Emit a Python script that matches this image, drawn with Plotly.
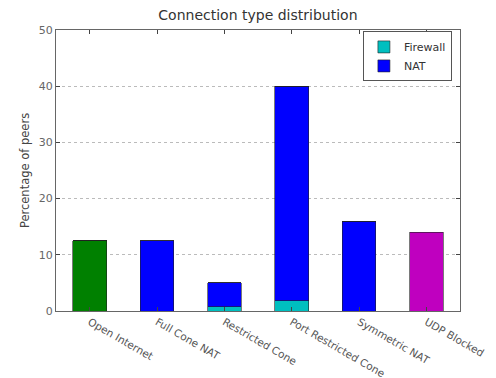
import plotly.graph_objects as go

categories = ["Open Internet", "Full Cone NAT", "Restricted Cone",
              "Port Restricted Cone", "Symmetric NAT", "UDP Blocked"]
open_internet = [12.5, 0, 0, 0, 0, 0]
firewall = [0, 0, 0.8, 1.8, 0, 0]
nat = [0, 12.5, 4.2, 38.2, 16.0, 0]
udp_blocked = [0, 0, 0, 0, 0, 14.0]
y_ticks = [0, 10, 20, 30, 40, 50]

edge = dict(color="#222222", width=0.6)
fig = go.Figure()
fig.add_bar(x=categories, y=open_internet, marker=dict(color="#008000", line=edge),
            width=0.5, showlegend=False, name="Open Internet")
fig.add_bar(x=categories, y=firewall, marker=dict(color="#00bfbf", line=edge),
            width=0.5, name="Firewall")
fig.add_bar(x=categories, y=nat, marker=dict(color="#0000ff", line=edge),
            width=0.5, name="NAT")
fig.add_bar(x=categories, y=udp_blocked, marker=dict(color="#bf00bf", line=edge),
            width=0.5, showlegend=False, name="UDP Blocked")

font = "DejaVu Sans"
fig.update_layout(
    width=496, height=378,
    barmode="stack",
    paper_bgcolor="white", plot_bgcolor="white",
    margin=dict(l=56, r=36, t=30, b=67, autoexpand=False),
    title=dict(text="Connection type distribution", x=0.52, xanchor="center",
               y=0.96, yanchor="middle",
               font=dict(family=font, size=14, color="#333333")),
    font=dict(family=font, color="#555555"),
    legend=dict(x=0.98, y=0.995, xanchor="right", yanchor="top",
                bgcolor="white", bordercolor="#555555", borderwidth=1,
                font=dict(family=font, size=11, color="#333333"),
                traceorder="normal", tracegroupgap=0, itemwidth=30),
    bargap=0.5,
)
fig.update_xaxes(range=[-0.5, 5.5], showline=True, linecolor="#666666", linewidth=1,
                 mirror="allticks", ticks="inside", ticklen=4, tickcolor="#444444",
                 tickangle=30, automargin=False,
                 tickfont=dict(family=font, size=10.5, color="#555555"),
                 showgrid=False)
fig.update_yaxes(range=[0, 50], tickvals=y_ticks, showline=True, linecolor="#666666",
                 linewidth=1, mirror="allticks", ticks="inside", ticklen=4,
                 tickcolor="#444444", automargin=False,
                 tickfont=dict(family=font, size=11, color="#666666"),
                 showgrid=True, gridcolor="#bbbbbb", griddash="dot", gridwidth=1,
                 zeroline=False,
                 title=dict(text="Percentage of peers", standoff=6,
                            font=dict(family=font, size=11.5, color="#444444")))

fig.write_html("out.html")
